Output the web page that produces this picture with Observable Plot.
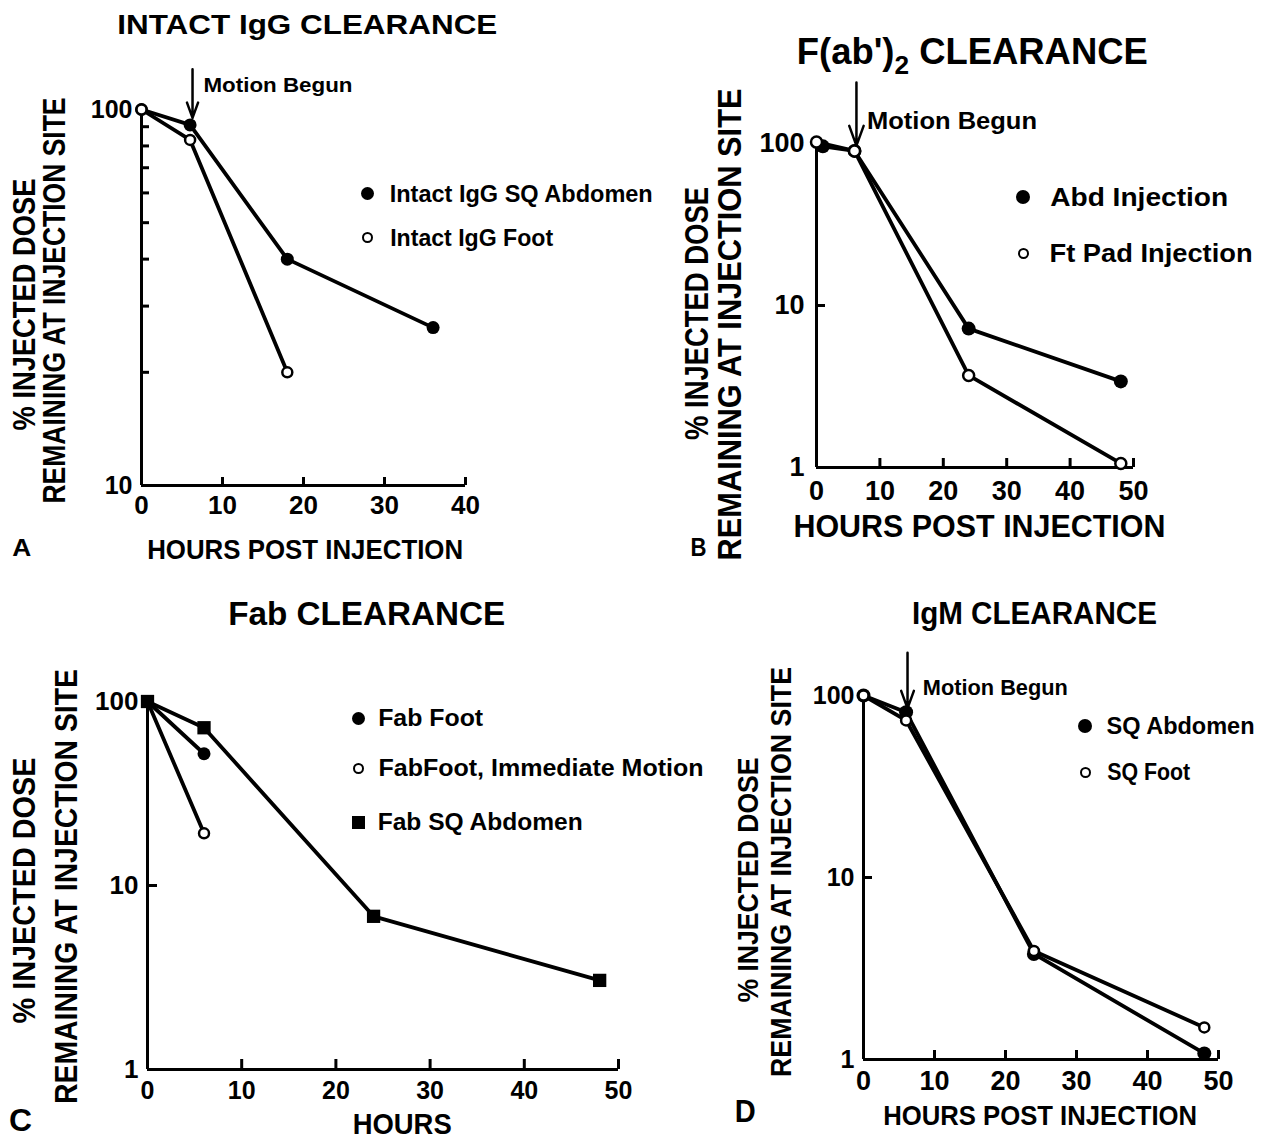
<!DOCTYPE html>
<html><head><meta charset="utf-8">
<script src="https://cdn.jsdelivr.net/npm/d3@7"></script>
<script src="https://cdn.jsdelivr.net/npm/@observablehq/plot@0.6"></script>
<style>
html,body{margin:0;padding:0;background:#fff;}
#page{position:relative;width:1265px;height:1140px;overflow:hidden;background:#fff;font-family:"Liberation Sans",Arial,sans-serif;color:#000;}
.panel{position:absolute;}
.lbl{position:absolute;white-space:nowrap;line-height:1;transform-origin:50% 50%;}
.sym{position:absolute;box-sizing:border-box;border-radius:50%;}
</style></head><body><div id="page"></div>
<script>
// ===== DATA =====
// A: Intact IgG clearance
const aAbdHours = [0, 6, 18, 36];
const aAbdValues = [100, 91, 40, 26.3];
const aFootHours = [0, 6, 18];
const aFootValues = [100, 83, 20];
// B: F(ab')2 clearance
const bAbdHours = [1, 6, 24, 48];
const bAbdValues = [96, 90, 7.2, 3.4];
const bPadHours = [0, 6, 24, 48];
const bPadValues = [102, 90, 3.7, 1.06];
// C: Fab clearance
const cFootHours = [0, 6];
const cFootValues = [100, 52];
const cImmHours = [0, 6];
const cImmValues = [100, 19.2];
const cAbdHours = [0, 6, 24, 48];
const cAbdValues = [100, 72, 6.8, 3.05];
// D: IgM clearance
const dAbdHours = [0, 6, 24, 48];
const dAbdValues = [100, 81, 3.8, 1.08];
const dFootHours = [0, 6, 24, 48];
const dFootValues = [100, 73, 3.95, 1.5];
// "Motion Begun" arrows: [hour, start value, tip value]
const motionA = [6.3, 128, 95];
const motionB = [6.3, 238, 97];
const motionD = [6.2, 172, 85];
// Ticks
const xTicksA = [0, 10, 20, 30, 40];
const xTickMarksA = [10, 20, 30, 40];
const yTicksA = [10, 100];
const yMinorA = [20, 30, 40, 50, 60, 70, 80, 90];
const xTicks50 = [0, 10, 20, 30, 40, 50];
const xTickMarks50 = [10, 20, 30, 40, 50];
const yTicksLog = [1, 10, 100];
const yTickMarksLog = [10];
// Texts
const titles = ["INTACT IgG CLEARANCE", "F(ab')<span style=\"font-size:0.72em;position:relative;top:0.38em\">2</span> CLEARANCE", "Fab CLEARANCE", "IgM CLEARANCE"];
const yLabel1 = "% INJECTED DOSE";
const yLabel2 = "REMAINING AT INJECTION SITE";
const xLabelHours = "HOURS POST INJECTION";
const xLabelC = "HOURS";
const motionText = "Motion Begun";
const legendA = ["Intact IgG SQ Abdomen", "Intact IgG Foot"];
const legendB = ["Abd  Injection", "Ft Pad Injection"];
const legendC = ["Fab Foot", "FabFoot, Immediate Motion", "Fab SQ Abdomen"];
const legendD = ["SQ Abdomen", "SQ Foot"];
const letters = ["A", "B", "C", "D"];

// ===== BUILD =====
const page = document.getElementById("page");
const pts = (hs, vs) => hs.map((h, i) => ({h, v: vs[i]}));

function makePanel(cfg) {
  const fw = cfg.x1 - cfg.x0, fh = cfg.yBot - cfg.yTop;
  const marks = [
    Plot.ruleX([cfg.xDomain[0]], {strokeWidth: 3}),
    Plot.ruleY([cfg.yDomain[0]], {strokeWidth: 3}),
    Plot.tickX(cfg.xTickMarks, {x: d => d, insetTop: fh - cfg.tickLen, strokeWidth: 3}),
    Plot.tickY(cfg.yTickMarks, {y: d => d, insetRight: fw - cfg.tickLen, strokeWidth: 3}),
    Plot.axisX(cfg.xTickLabels, {tickSize: 0, tickPadding: cfg.xPad, fontSize: cfg.xFont, label: null, tickFormat: d => String(d)}),
    Plot.axisY(cfg.yTickLabels, {tickSize: 0, tickPadding: cfg.yPad, fontSize: cfg.yFont, label: null, tickFormat: d => String(d)}),
    ...cfg.marks
  ];
  const svg = Plot.plot({
    width: cfg.width, height: cfg.height,
    marginLeft: cfg.x0 - cfg.left, marginRight: cfg.left + cfg.width - cfg.x1,
    marginTop: cfg.yTop - cfg.top, marginBottom: cfg.top + cfg.height - cfg.yBot,
    x: {domain: cfg.xDomain},
    y: {type: "log", domain: cfg.yDomain},
    style: {background: "transparent", color: "black", fontFamily: "'Liberation Sans', Arial, sans-serif", fontWeight: "bold"},
    marks
  });
  const div = document.createElement("div");
  div.className = "panel";
  div.style.left = cfg.left + "px"; div.style.top = cfg.top + "px";
  div.style.width = cfg.width + "px"; div.style.height = cfg.height + "px";
  div.appendChild(svg);
  page.appendChild(div);
}

const filled = (data, r) => Plot.dot(data, {x: "h", y: "v", r, fill: "black"});
const open = (data, r) => Plot.dot(data, {x: "h", y: "v", r, fill: "white", stroke: "black", strokeWidth: 2.5});
const line = (data) => Plot.line(data, {x: "h", y: "v", strokeWidth: 3.8, stroke: "black"});
const arrow = (m) => Plot.arrow([m], {x1: d => d[0], x2: d => d[0], y1: d => d[1], y2: d => d[2], strokeWidth: 2.5, headLength: 13, headAngle: 40, stroke: "black"});

// Panel A
{
  const abd = pts(aAbdHours, aAbdValues), foot = pts(aFootHours, aFootValues);
  makePanel({left: 0, top: 60, width: 650, height: 480, x0: 141, x1: 465, yTop: 109, yBot: 485,
    xDomain: [0, 40], yDomain: [10, 100], tickLen: 8,
    xTickMarks: xTickMarksA, yTickMarks: yMinorA, xTickLabels: xTicksA, yTickLabels: yTicksA,
    xPad: 10, xFont: 26, yPad: 9, yFont: 25,
    marks: [line(abd), line(foot), filled(abd, 6.5), open(foot, 5), arrow(motionA)]});
}
// Panel B
{
  const abd = pts(bAbdHours, bAbdValues), pad = pts(bPadHours, bPadValues);
  makePanel({left: 660, top: 60, width: 605, height: 480, x0: 816, x1: 1133, yTop: 143, yBot: 467,
    xDomain: [0, 50], yDomain: [1, 100], tickLen: 9,
    xTickMarks: xTickMarks50, yTickMarks: yTickMarksLog, xTickLabels: xTicks50, yTickLabels: yTicksLog,
    xPad: 13, xFont: 27, yPad: 12, yFont: 27,
    marks: [line(abd), line(pad), filled(abd, 7), open(pad, 5.5), arrow(motionB)]});
}
// Panel C
{
  const foot = pts(cFootHours, cFootValues), imm = pts(cImmHours, cImmValues), abd = pts(cAbdHours, cAbdValues);
  makePanel({left: 0, top: 640, width: 650, height: 500, x0: 147, x1: 618, yTop: 701, yBot: 1069,
    xDomain: [0, 50], yDomain: [1, 100], tickLen: 10,
    xTickMarks: xTickMarks50, yTickMarks: yTickMarksLog, xTickLabels: xTicks50, yTickLabels: yTicksLog,
    xPad: 12, xFont: 25, yPad: 9, yFont: 26,
    marks: [line(foot), line(imm), line(abd), filled(foot, 6.5), open(imm, 5),
      Plot.dot(abd, {x: "h", y: "v", r: 7.5, symbol: "square", fill: "black"})]});
}
// Panel D
{
  const abd = pts(dAbdHours, dAbdValues), foot = pts(dFootHours, dFootValues);
  makePanel({left: 720, top: 640, width: 545, height: 500, x0: 863, x1: 1218, yTop: 695, yBot: 1059,
    xDomain: [0, 50], yDomain: [1, 100], tickLen: 9,
    xTickMarks: xTickMarks50, yTickMarks: yTickMarksLog, xTickLabels: xTicks50, yTickLabels: yTicksLog,
    xPad: 11, xFont: 27, yPad: 9, yFont: 25,
    marks: [line(abd), line(foot), filled(abd, 7), open(foot, 5), arrow(motionD)]});
}

// ===== TEXT (fitted to measured widths) =====
function txt(html, o) {
  const el = document.createElement("div");
  el.className = "lbl";
  el.innerHTML = html;
  el.style.fontSize = o.size + "px";
  el.style.fontWeight = o.weight || 700;
  page.appendChild(el);
  const r = el.getBoundingClientRect();
  const k = o.w / r.width;
  const cx = o.cx !== undefined ? o.cx : o.left + o.w / 2;
  el.style.left = (cx - r.width / 2) + "px";
  el.style.top = (o.cy - r.height / 2) + "px";
  el.style.transform = (o.rot ? "rotate(-90deg) " : "") + "scaleX(" + k + ")";
}
function sym(cx, cy, d, kind) {
  const el = document.createElement("div");
  el.className = "sym";
  el.style.left = (cx - d / 2) + "px"; el.style.top = (cy - d / 2) + "px";
  el.style.width = d + "px"; el.style.height = d + "px";
  if (kind === "filled") el.style.background = "#000";
  else if (kind === "square") { el.style.background = "#000"; el.style.borderRadius = "0"; }
  else { el.style.background = "#fff"; el.style.border = "2.5px solid #000"; }
  page.appendChild(el);
}

// titles
txt(titles[0], {cx: 307, cy: 25, w: 380, size: 28});
txt(titles[1], {left: 797, cy: 51, w: 351, size: 37});
txt(titles[2], {left: 228, cy: 613, w: 277, size: 34});
txt(titles[3], {left: 912, cy: 613, w: 245, size: 32});
// y labels
txt(yLabel1, {cx: 25, cy: 304, w: 252, size: 31, rot: true});
txt(yLabel2, {cx: 55, cy: 300, w: 406, size: 31, rot: true});
txt(yLabel1, {cx: 696, cy: 313, w: 253, size: 33, rot: true});
txt(yLabel2, {cx: 729, cy: 324, w: 472, size: 33, rot: true});
txt(yLabel1, {cx: 25, cy: 890, w: 266, size: 31, rot: true});
txt(yLabel2, {cx: 67, cy: 886, w: 435, size: 31, rot: true});
txt(yLabel1, {cx: 748, cy: 880, w: 245, size: 30, rot: true});
txt(yLabel2, {cx: 781, cy: 872, w: 410, size: 30, rot: true});
// x labels
txt(xLabelHours, {left: 147, cy: 550, w: 316, size: 28});
txt(xLabelHours, {left: 793, cy: 526, w: 372, size: 31});
txt(xLabelC, {left: 353, cy: 1124, w: 99, size: 30});
txt(xLabelHours, {left: 883, cy: 1116, w: 314, size: 28});
// panel letters
txt(letters[0], {cx: 22, cy: 548, w: 19, size: 24});
txt(letters[1], {cx: 698, cy: 547, w: 16, size: 26});
txt(letters[2], {cx: 21, cy: 1120, w: 23, size: 32});
txt(letters[3], {cx: 745, cy: 1111, w: 21, size: 31});
// motion begun
txt(motionText, {left: 203, cy: 84, w: 149, size: 21});
txt(motionText, {left: 867, cy: 121, w: 170, size: 24});
txt(motionText, {left: 923, cy: 688, w: 145, size: 22});
// legends
sym(367, 193, 13, "filled"); txt(legendA[0], {left: 390, cy: 194, w: 263, size: 24});
sym(367, 237, 11, "open");   txt(legendA[1], {left: 390, cy: 238, w: 163, size: 24});
sym(1023, 197, 14, "filled"); txt(legendB[0], {left: 1050, cy: 197, w: 178, size: 25});
sym(1023, 253, 11, "open");   txt(legendB[1], {left: 1050, cy: 253, w: 203, size: 25});
sym(358, 718, 13, "filled"); txt(legendC[0], {left: 378, cy: 718, w: 105, size: 24});
sym(358, 768, 11, "open");   txt(legendC[1], {left: 378, cy: 768, w: 325, size: 24});
sym(358, 822, 13, "square"); txt(legendC[2], {left: 378, cy: 822, w: 205, size: 24});
sym(1085, 726, 14, "filled"); txt(legendD[0], {left: 1107, cy: 726, w: 148, size: 24});
sym(1085, 772, 11, "open");   txt(legendD[1], {left: 1107, cy: 772, w: 83, size: 24});
</script>
</body></html>
